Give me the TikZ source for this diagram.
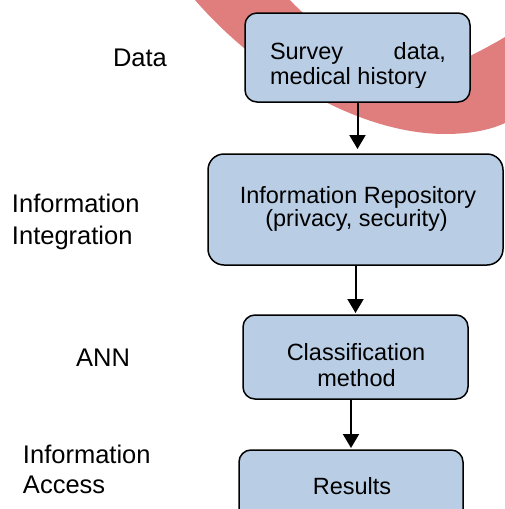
\documentclass[tikz,border=0pt]{standalone}
\usepackage{fontspec}
\setmainfont{Liberation Sans}
\usetikzlibrary{arrows.meta}
\definecolor{boxblue}{RGB}{185,205,229}
\definecolor{arcred}{RGB}{223,126,125}
\begin{document}
\begin{tikzpicture}[x=1pt,y=-1pt,
  box/.style={draw=black, line width=1.5pt, fill=boxblue, rounded corners=12pt, inner sep=0pt, outer sep=0pt},
  boxtxt/.style={inner sep=0pt, outer sep=0pt, font=\fontsize{23.5}{24}\selectfont},
  lbl/.style={inner sep=0pt, outer sep=0pt, font=\fontsize{25.5}{30}\selectfont},
  arr/.style={line width=2pt, -{Triangle[length=14pt,width=16pt]}}]
\clip (0,0) rectangle (505,509);
% red arc band (behind everything)
\fill[arcred] (186,-12) -- (195,0) .. controls (260,75) and (360,134) .. (445,134)
  .. controls (470,134) and (490,130) .. (505,123) -- (530,110) -- (530,20) -- (505,37)
  .. controls (495,43) and (482,50) .. (472,55)
  .. controls (420,78) and (330,45) .. (290,0) -- (280,-12) -- cycle;
% boxes
\node[box, minimum width=225pt, minimum height=89pt] (b1) at (357.5,57.5) {};
\node[box, minimum width=295pt, minimum height=111pt, rounded corners=16pt] (b2) at (355.5,209.5) {};
\node[box, minimum width=225pt, minimum height=84pt] (b3) at (355.5,357) {};
\node[box, minimum width=224pt, minimum height=80pt] (b4) at (351,490) {};
% box texts
\node[boxtxt, anchor=base west] (t1a) at (270,59.3) {Survey};
\node[boxtxt, anchor=base east] (t1b) at (446,59.3) {data,};
\begin{scope}
\clip (240,60) rectangle (470,87);
\node[boxtxt, anchor=base west] (t1c) at (270,84) {medical history};
\end{scope}
\node[boxtxt, anchor=base] (t2a) at (358,203.3) {Information Repository};
\node[boxtxt, anchor=base] (t2b) at (356.5,226.7) {(privacy, security)};
\node[boxtxt, anchor=base] (t3a) at (356,360.7) {Classification};
\begin{scope}
\clip (240,362) rectangle (470,387.2);
\node[boxtxt, anchor=base] (t3b) at (356.5,386) {method};
\end{scope}
\node[boxtxt, anchor=base] (t4a) at (352,494) {Results};
% left labels
\node[lbl, anchor=base] (l1) at (140,66) {Data};
\node[lbl, anchor=base west] (l2a) at (12,212.5) {Information};
\node[lbl, anchor=base west] (l2b) at (12,244) {Integration};
\node[lbl, anchor=base] (l3) at (103,366) {ANN};
\node[lbl, anchor=base west] (l4a) at (23,463) {Information};
\node[lbl, anchor=base west] (l4b) at (23,493) {Access};
% arrows
\draw[arr, shorten >=5pt] (b1.south) -- (b1.south |- b2.north);
\draw[arr, shorten >=2pt] (b2.south) -- (b2.south |- b3.north);
\draw[arr, shorten >=2pt] (b3.south -| b4.north) -- (b4.north);
\end{tikzpicture}
\end{document}
